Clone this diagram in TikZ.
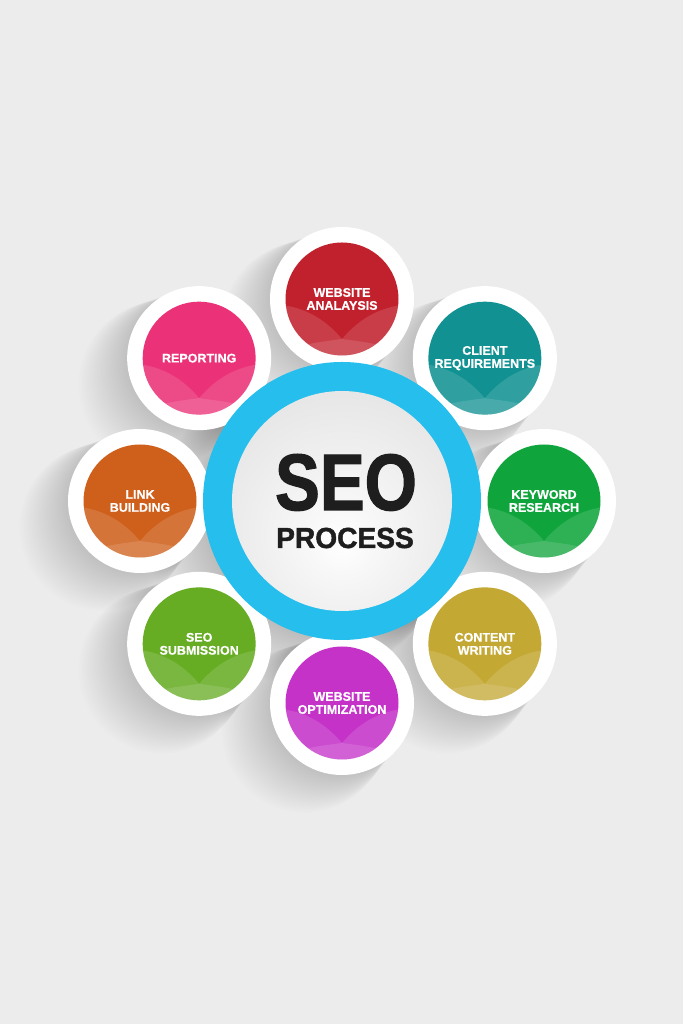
\documentclass[tikz,border=0pt]{standalone}
\usepackage{fontspec}
\usepackage{graphicx}
\setmainfont{Liberation Sans}
\newfontfamily\heavyfont[BoldFeatures={FakeBold=1.6}]{Liberation Sans}
\newfontfamily\labfont[BoldFeatures={FakeBold=0.6}]{Liberation Sans}
\usetikzlibrary{calc}
\definecolor{bg}{RGB}{236,236,236}
\definecolor{cWA}{RGB}{193,33,45}
\definecolor{cCR}{RGB}{17,145,146}
\definecolor{cKR}{RGB}{16,165,60}
\definecolor{cCW}{RGB}{196,168,52}
\definecolor{cWO}{RGB}{196,50,200}
\definecolor{cSS}{RGB}{103,173,36}
\definecolor{cLB}{RGB}{207,96,27}
\definecolor{cRP}{RGB}{235,49,119}
\definecolor{cBlue}{RGB}{38,190,236}
\definecolor{cText}{RGB}{30,30,30}
\pgfdeclareradialshading{seoglow}{\pgfpoint{0bp}{-10bp}}{color(0bp)=(white); color(8bp)=(white!97!black); color(32bp)=(black!10); color(55bp)=(black!18); color(70bp)=(black!20)}
\begin{document}
\begin{tikzpicture}[x=1pt,y=1pt,
  ring/.style={circle, fill=white, minimum size=144, inner sep=0},
  disc/.style={circle, minimum size=113, inner sep=0},
  lab/.style={text=white, font=\labfont\bfseries\fontsize{12.5}{13}\selectfont, align=center, inner sep=0},
  shadowfill/.style={fill=black, opacity=0.0065}]
\useasboundingbox (0,0) rectangle (683,1024);
\fill[bg] (0,0) rectangle (683,1024);
\coordinate (c) at (342,523);
% long soft shadows
\foreach \ang in {0,45,90,135,180,225,270,315}{
  \foreach \k in {1,...,22}{
    \fill[shadowfill] ($(c)+(\ang:202)+(-1.7*\k,-1.2*\k)$) circle ({70+0.6*\k});
  }
}
\foreach \k in {1,...,24}{
  \fill[shadowfill] ($(c)+(-1.8*\k,-1.3*\k)$) circle ({137+0.6*\k});
}
% satellites
\foreach \ang/\col/\nm/\txt in {
  90/cWA/wa/{WEBSITE\\ANALAYSIS},
  45/cCR/cr/{CLIENT\\REQUIREMENTS},
  0/cKR/kr/{KEYWORD\\RESEARCH},
  -45/cCW/cw/{CONTENT\\WRITING},
  -90/cWO/wo/{WEBSITE\\OPTIMIZATION},
  -135/cSS/ss/{SEO\\SUBMISSION},
  180/cLB/lb/{LINK\\BUILDING},
  135/cRP/rp/{REPORTING}}{
  \node[ring] (\nm-ring) at ($(c)+(\ang:202)$) {};
  \node[disc, fill=\col] (\nm) at (\nm-ring.center) {};
  \begin{scope}[shift={(\nm.center)}]
    \clip (0,0) circle (56.5);
    \fill[white, opacity=.13] (-60,-6) .. controls (-30,-10) and (-12,-26) .. (0,-40)
      .. controls (12,-26) and (30,-10) .. (60,-6) -- (60,-60) -- (-60,-60) -- cycle;
    \fill[white, opacity=.12] (-60,-52) .. controls (-30,-44) .. (0,-40)
      .. controls (30,-44) .. (60,-52) -- (60,-60) -- (-60,-60) -- cycle;
  \end{scope}
  \node[lab] (\nm-t) at (\nm.center) {\txt};
}
% centre
\node[circle, fill=cBlue, minimum size=278, inner sep=0] (bluering) at (c) {};
\node[circle, shading=seoglow, minimum size=220, inner sep=0] (core) at (c) {};
\node[anchor=base, inner sep=0, text=cText, font=\heavyfont\bfseries\fontsize{80}{80}\selectfont] (seo) at (346,514) {\scalebox{0.84}[1]{SEO}};
\node[anchor=base, inner sep=0, text=cText, font=\heavyfont\bfseries\fontsize{29}{29}\selectfont] (proc) at (345,476) {\scalebox{0.97}[1]{PROCESS}};
\end{tikzpicture}
\end{document}
